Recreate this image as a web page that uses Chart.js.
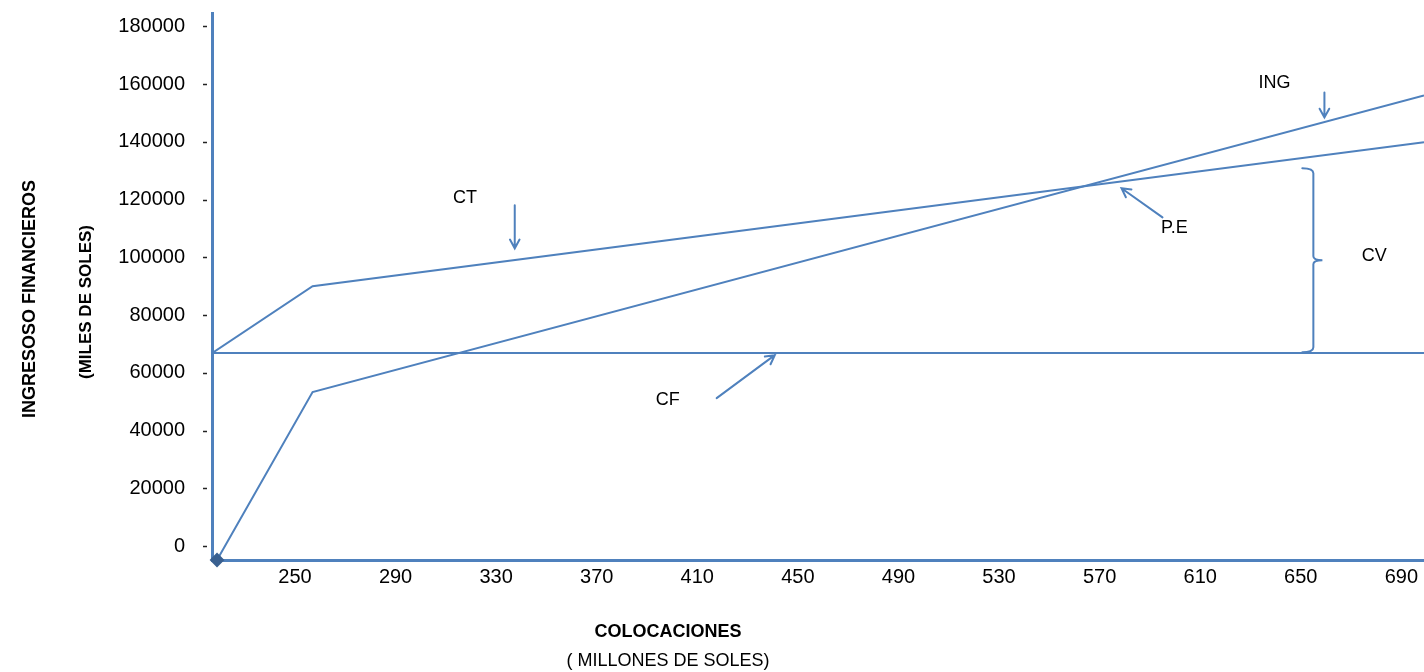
<!DOCTYPE html>
<html>
<head>
<meta charset="utf-8">
<script src="https://cdn.jsdelivr.net/npm/chart.js@4"></script>
<style>
  html, body { margin: 0; padding: 0; background: #fff; overflow: hidden; }
  #wrap { width: 1424px; height: 672px; }
</style>
</head>
<body>
<div id="wrap"><canvas id="myChartLine"></canvas></div>
<script>
// tick labels
const xTicks = [250, 290, 330, 370, 410, 450, 490, 530, 570, 610, 650, 690];
const yTicks = [0, 20000, 40000, 60000, 80000, 100000, 120000, 140000, 160000, 180000];

// series (colocaciones vs miles de soles)
const ingX = [219, 257, 699];
const ingY = [-4850, 53300, 156000];
const ctX = [217, 257, 699];
const ctY = [66800, 90000, 139800];
const cfX = [217, 699];
const cfY = [66800, 66800];

// labels and arrows drawn on the plot, in data units
const notes = [
  { text: 'ING', x: 639.5, y: 160500 },
  { text: 'CT', x: 317.6, y: 120400 },
  { text: 'P.E', x: 599.7, y: 110000 },
  { text: 'CV', x: 679.2, y: 100300 },
  { text: 'CF', x: 398.2, y: 50500 }
];
const arrows = [
  { x1: 659.4, y1: 157100, x2: 659.4, y2: 148400 },
  { x1: 337.4, y1: 118000, x2: 337.4, y2: 103100 },
  { x1: 595.0, y1: 113800, x2: 578.7, y2: 123900 },
  { x1: 417.7, y1: 51200, x2: 440.8, y2: 66100 }
];
const brace = { x: 650.6, x2: 655.0, tip: 658.6, top: 130800, mid: 99000, bottom: 67100 };

const BLUE = '#4f81bd';

function toPoints(xs, ys) {
  return xs.map((x, i) => ({ x: x, y: ys[i] }));
}

const extras = {
  id: 'extras',
  afterDraw(chart) {
    const ctx = chart.ctx;
    const xs = chart.scales.x;
    const ys = chart.scales.y;
    const left = chart.chartArea.left;
    ctx.save();

    // small y tick dashes, detached from the axis
    ctx.strokeStyle = '#222';
    ctx.lineWidth = 1.5;
    yTicks.forEach(v => {
      const py = Math.round(ys.getPixelForValue(v)) + 0.5;
      ctx.beginPath();
      ctx.moveTo(left - 9, py);
      ctx.lineTo(left - 5, py);
      ctx.stroke();
    });

    // axis titles
    ctx.fillStyle = '#000';
    ctx.textAlign = 'center';
    ctx.textBaseline = 'middle';
    ctx.font = 'bold 18px "Liberation Sans Narrow", "Liberation Sans", Arial';
    ctx.save();
    ctx.translate(30, 299);
    ctx.rotate(-Math.PI / 2);
    ctx.fillText('INGRESOSO FINANCIEROS', 0, 0);
    ctx.restore();
    ctx.font = 'bold 17px "Liberation Sans Narrow", "Liberation Sans", Arial';
    ctx.save();
    ctx.translate(86, 302);
    ctx.rotate(-Math.PI / 2);
    ctx.fillText('(MILES DE SOLES)', 0, 0);
    ctx.restore();

    ctx.font = 'bold 18px "Liberation Sans", Arial';
    ctx.fillText('COLOCACIONES', 668, 632);
    ctx.font = '18px "Liberation Sans", Arial';
    ctx.fillText('( MILLONES DE SOLES)', 668, 661);

    // notes
    ctx.font = '18px "Liberation Sans", Arial';
    notes.forEach(n => {
      ctx.fillText(n.text, xs.getPixelForValue(n.x), ys.getPixelForValue(n.y));
    });

    // arrows
    ctx.strokeStyle = BLUE;
    ctx.lineWidth = 2;
    ctx.lineCap = 'round';
    arrows.forEach(a => {
      const x1 = xs.getPixelForValue(a.x1), y1 = ys.getPixelForValue(a.y1);
      const x2 = xs.getPixelForValue(a.x2), y2 = ys.getPixelForValue(a.y2);
      const ang = Math.atan2(y2 - y1, x2 - x1);
      const h = 10;
      ctx.beginPath();
      ctx.moveTo(x1, y1);
      ctx.lineTo(x2, y2);
      ctx.moveTo(x2 - h * Math.cos(ang - 0.5), y2 - h * Math.sin(ang - 0.5));
      ctx.lineTo(x2, y2);
      ctx.lineTo(x2 - h * Math.cos(ang + 0.5), y2 - h * Math.sin(ang + 0.5));
      ctx.stroke();
    });

    // brace for CV
    const bx = xs.getPixelForValue(brace.x);
    const bx2 = xs.getPixelForValue(brace.x2);
    const tip = xs.getPixelForValue(brace.tip);
    const bt = ys.getPixelForValue(brace.top);
    const bm = ys.getPixelForValue(brace.mid);
    const bb = ys.getPixelForValue(brace.bottom);
    ctx.beginPath();
    ctx.moveTo(bx, bt);
    ctx.quadraticCurveTo(bx2, bt, bx2, bt + 5);
    ctx.lineTo(bx2, bm - 4);
    ctx.quadraticCurveTo(bx2, bm, tip, bm);
    ctx.quadraticCurveTo(bx2, bm, bx2, bm + 4);
    ctx.lineTo(bx2, bb - 5);
    ctx.quadraticCurveTo(bx2, bb, bx, bb);
    ctx.stroke();

    ctx.restore();
  }
};

const lineStyle = {
  borderColor: BLUE,
  borderWidth: 2,
  pointRadius: 0,
  showLine: true,
  tension: 0,
  fill: false
};

const config = {
  type: 'scatter',
  data: {
    datasets: [
      Object.assign({}, lineStyle, {
        label: 'ING',
        data: toPoints(ingX, ingY),
        pointRadius: [6, 0, 0],
        pointStyle: 'rectRot',
        pointBackgroundColor: '#3a6090',
        pointBorderColor: '#3a6090',
        clip: false
      }),
      Object.assign({}, lineStyle, { label: 'CT', data: toPoints(ctX, ctY) }),
      Object.assign({}, lineStyle, { label: 'CF', data: toPoints(cfX, cfY) })
    ]
  },
  options: {
    responsive: true,
    maintainAspectRatio: false,
    animation: false,
    layout: { autoPadding: false, padding: { top: 13, left: 0, right: 0, bottom: 0 } },
    plugins: {
      legend: { display: false },
      tooltip: { enabled: false }
    },
    scales: {
      x: {
        type: 'linear',
        min: 217,
        max: 699,
        afterBuildTicks: s => { s.ticks = xTicks.map(v => ({ value: v })); },
        afterFit: s => { s.height = 112; s.paddingLeft = 0; s.paddingRight = 0; },
        grid: { display: false, drawTicks: false },
        border: { display: true, color: BLUE, width: 3 },
        ticks: {
          padding: 5,
          color: '#000',
          maxRotation: 0,
          autoSkip: false,
          callback: v => String(v),
          font: { family: '"Liberation Sans", Arial', size: 20 }
        }
      },
      y: {
        type: 'linear',
        min: -4850,
        max: 184600,
        afterBuildTicks: s => { s.ticks = yTicks.map(v => ({ value: v })); },
        afterFit: s => { s.width = 212; s.paddingTop = 0; s.paddingBottom = 0; },
        grid: { display: false, drawTicks: false },
        border: { display: true, color: BLUE, width: 3 },
        ticks: {
          padding: 27,
          color: '#000',
          autoSkip: false,
          callback: v => String(v),
          font: { family: '"Liberation Sans", Arial', size: 20 }
        }
      }
    }
  },
  plugins: [extras]
};

const ctx1 = document.getElementById('myChartLine').getContext('2d');
const myChart1 = new Chart(ctx1, config);
</script>
</body>
</html>
